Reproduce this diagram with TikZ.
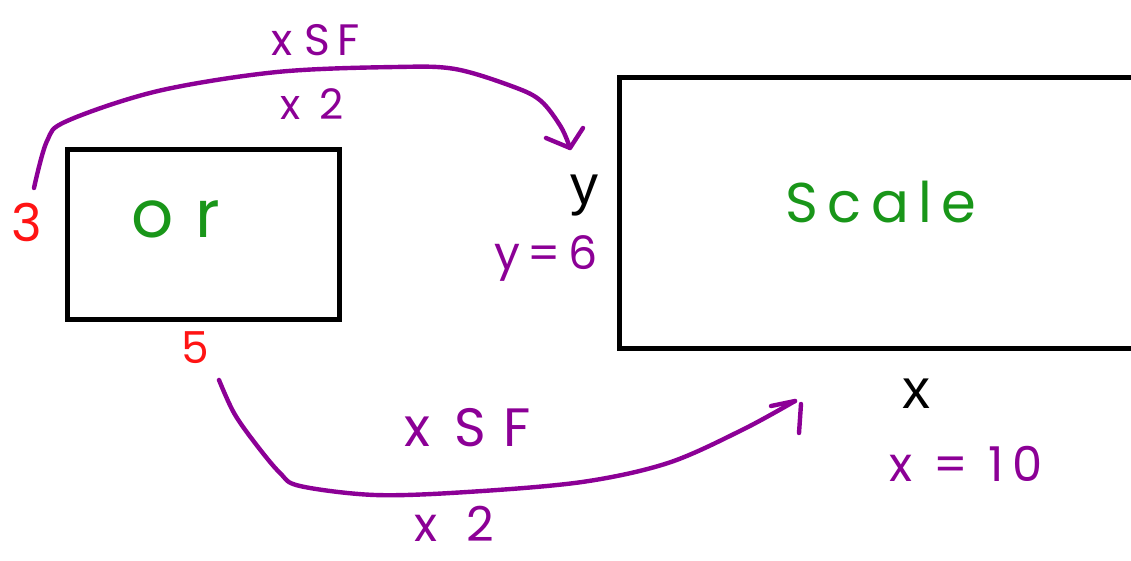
\documentclass[tikz,border=0pt]{standalone}
\usepackage{fontspec}
\setmainfont{Liberation Sans}
\newfontfamily\handfont{Poppins}
\definecolor{pen}{RGB}{140,0,150}
\definecolor{grn}{RGB}{25,150,25}
\definecolor{rd}{RGB}{255,20,20}
\tikzset{
  boxline/.style={draw=black, line width=4.6pt, minimum width=#1, inner sep=0pt},
  penline/.style={draw=pen, line width=4.4pt, line cap=round, line join=round},
  hand/.style={text=pen, inner sep=0pt, font={\handfont\fontsize{#1}{#1}\selectfont}},
  greentext/.style={text=grn, inner sep=0pt, font={\handfont\fontsize{#1}{#1}\selectfont}},
  redtext/.style={text=rd, inner sep=0pt, font={\handfont\fontsize{#1}{#1}\selectfont}},
  blacktext/.style={text=black, inner sep=0pt, font={\fontsize{#1}{#1}\selectfont}},
}
\begin{document}
\begin{tikzpicture}[x=1pt,y=-1pt]
\useasboundingbox (0,0) rectangle (1131,560);
\clip (0,0) rectangle (1131,560);
\fill[white] (0,0) rectangle (1131,560);

% boxes
\node[boxline=272pt, minimum height=170pt, anchor=north west] (orig) at (65,147) {};
\node[boxline=560pt, minimum height=271pt, anchor=north west] (big) at (617,75) {};

% box texts
\node[greentext=66] (ortext) at (176,219) {o\,\,r};
\node[greentext=56] (scaletext) at (881,202) {S\,c\,a\,l\,e};

% side lengths
\node[redtext=52] (three) at (27,222) {3};
\node[redtext=44] (five) at (195,348) {5};
\node[blacktext=56] (ylab) at (584,196) {y};
\node[blacktext=56] (xlab) at (916,394) {x};
\node[hand=46] (yeq) at (546,258) {y\,=\,6};
\node[hand=48] (xeq) at (966,464) {x \,=\, 1\,0};

% scale factor labels
\node[hand=44] (sf1) at (316,40) {x S\,F};
\node[hand=42] (two1) at (312,104) {x \,2};
\node[hand=54] (sf2) at (468,428) {x \,S\,\,F};
\node[hand=48] (two2) at (454,524) {x \,\,2};

% arrows
\coordinate (a1s) at (34,188);
\coordinate (a1e) at (570,148);
\draw[penline] plot[smooth, tension=0.55] coordinates {(a1s) (47,141) (67,121) (158,91) (277,72) (395,67) (455,69) (514,87) (541,101) (561,127) (a1e)};
\draw[penline] (a1e) ++(-24,-10) -- (a1e) -- ++(13,-20);

\coordinate (a2s) at (219,380);
\coordinate (a2e) at (795,401);
\draw[penline] plot[smooth, tension=0.55] coordinates {(a2s) (234,413) (255,443) (280,473) (300,486) (375,495) (467,492) (582,482) (668,463) (742,430) (a2e)};
\draw[penline] (a2e) ++(-24,5) -- (a2e);
\draw[penline] (a2e) ++(6,3) -- ++(-2,29);
\end{tikzpicture}
\end{document}
